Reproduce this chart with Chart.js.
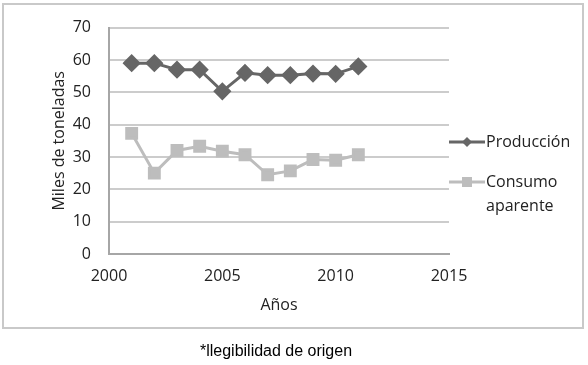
<!DOCTYPE html>
<html>
<head>
<meta charset="utf-8">
<script src="https://cdn.jsdelivr.net/npm/chart.js@4/dist/chart.umd.min.js"></script>
<style>
  html, body { margin: 0; padding: 0; background: #fff; }
  #wrap { position: relative; width: 588px; height: 365px; }
  #box { position: absolute; left: 2px; top: 3px; width: 578px; height: 322px; border: 2px solid #c9c9c9; }
  #c { position: absolute; left: 0; top: 0; }
  #caption { position: absolute; left: 0; width: 552px; top: 342px; text-align: center; font-family: "Liberation Sans", Arial, sans-serif; font-size: 16px; line-height: 18px; color: #000; }
</style>
</head>
<body>
<div id="wrap">
  <div id="box"></div>
  <canvas id="c" width="588" height="365"></canvas>
  <div id="caption">*llegibilidad de origen</div>
</div>
<script>
const years = [2001, 2002, 2003, 2004, 2005, 2006, 2007, 2008, 2009, 2010, 2011];
const produccion = [59, 59, 57, 57, 50.3, 56, 55.3, 55.3, 55.8, 55.7, 58];
const consumo = [37.3, 25, 32, 33.3, 31.8, 30.7, 24.5, 25.7, 29.2, 29, 30.7];
const seriesNames = ['Producción', 'Consumo aparente'];
const legendLines = [['Producción'], ['Consumo', 'aparente']];
const xTitle = 'Años';
const yTitle = 'Miles de toneladas';

const colProd = '#666666';
const colCons = '#bdbdbd';
const FONT = '"Open Sans", sans-serif';

const toPts = (vals) => years.map((y, i) => ({ x: y, y: vals[i] }));

const legendPlugin = {
  id: 'sideLegend',
  afterDraw(chart) {
    const ctx = chart.ctx;
    const x0 = chart.chartArea.right;
    const ys = [142, 182];
    chart.data.datasets.forEach((ds, i) => {
      const y = ys[i];
      ctx.save();
      ctx.strokeStyle = ds.borderColor;
      ctx.lineWidth = 3;
      ctx.beginPath();
      ctx.moveTo(x0, y);
      ctx.lineTo(x0 + 36, y);
      ctx.stroke();
      ctx.fillStyle = ds.backgroundColor;
      const mx = x0 + 18;
      if (ds.pointStyle === 'rectRot') {
        ctx.beginPath();
        ctx.moveTo(mx, y - 5); ctx.lineTo(mx + 5, y); ctx.lineTo(mx, y + 5); ctx.lineTo(mx - 5, y);
        ctx.closePath(); ctx.fill();
      } else {
        ctx.fillRect(mx - 5, y - 5, 10, 10);
      }
      ctx.fillStyle = '#222';
      ctx.font = '16px ' + FONT;
      ctx.textBaseline = 'middle';
      ctx.textAlign = 'left';
      legendLines[i].forEach((t, k) => ctx.fillText(t, x0 + 37, y + k * 24));
      ctx.restore();
    });
  }
};

new Chart(document.getElementById('c'), {
  type: 'line',
  data: {
    datasets: [
      { label: seriesNames[0], data: toPts(produccion), borderColor: colProd, backgroundColor: colProd,
        borderWidth: 3, pointStyle: 'rectRot', pointRadius: 7, pointHoverRadius: 7, tension: 0 },
      { label: seriesNames[1], data: toPts(consumo), borderColor: colCons, backgroundColor: colCons,
        borderWidth: 3, pointStyle: 'rect', pointRadius: 7, pointHoverRadius: 7, tension: 0 }
    ]
  },
  options: {
    responsive: false,
    animation: false,
    layout: { padding: { left: 0, right: 139, top: 23, bottom: 0 } },
    plugins: { legend: { display: false }, tooltip: { enabled: false } },
    scales: {
      x: {
        type: 'linear', min: 2000, max: 2015,
        ticks: { stepSize: 5, padding: 13, color: '#222', font: { family: FONT, size: 16 }, callback: v => String(v) },
        grid: { display: false, drawTicks: false },
        border: { display: true, color: '#a6a6a6', width: 2 },
        title: { display: true, text: xTitle, color: '#222', font: { family: FONT, size: 16 }, padding: { top: 0, bottom: 50 } },
        afterFit(s) { s.height = 111; }
      },
      y: {
        min: 0, max: 70,
        ticks: { stepSize: 10, padding: 18, color: '#222', font: { family: FONT, size: 16 } },
        grid: { color: '#cccccc', lineWidth: 2, drawTicks: false },
        border: { display: true, color: '#a6a6a6', width: 2 },
        title: { display: true, text: yTitle, color: '#222', font: { family: FONT, size: 16 }, padding: { top: 50, bottom: 0 } },
        afterFit(s) { s.width = 109; }
      }
    }
  },
  plugins: [legendPlugin]
});
</script>
</body>
</html>
